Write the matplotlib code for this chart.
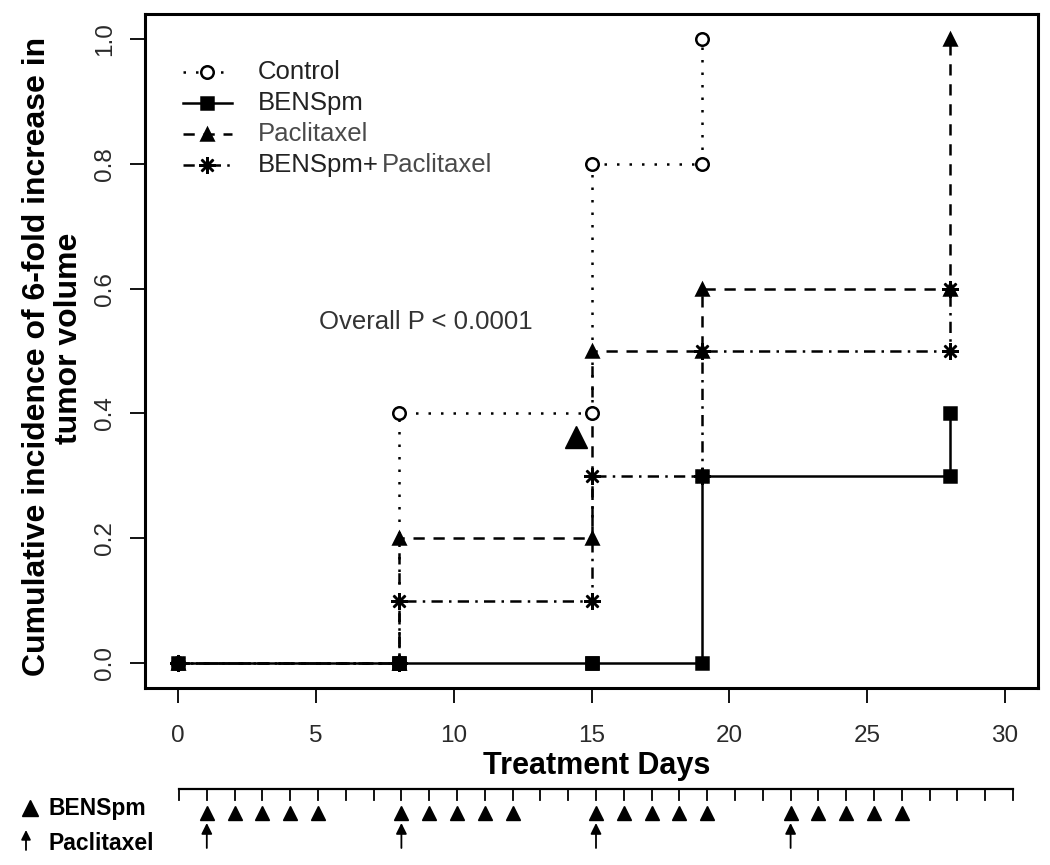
import matplotlib
matplotlib.use("Agg")
import matplotlib.pyplot as plt

plt.rcParams['font.family'] = ['Liberation Sans', 'DejaVu Sans']

# cumulative incidence of 6-fold tumour volume increase
days = [0, 8, 15, 19, 28]
control = [0.0, 0.4, 0.8, 1.0]          # observed up to day 19
benspm = [0.0, 0.0, 0.0, 0.3, 0.4]
paclitaxel = [0.0, 0.2, 0.5, 0.6, 1.0]
combo = [0.0, 0.1, 0.3, 0.5, 0.6]

x_ticks = [0, 5, 10, 15, 20, 25, 30]
y_ticks = [0.0, 0.2, 0.4, 0.6, 0.8, 1.0]

# dosing schedule
sched_days = list(range(31))
benspm_doses = [1, 2, 3, 4, 5, 8, 9, 10, 11, 12, 15, 16, 17, 18, 19, 22, 23, 24, 25, 26]
pacli_doses = [1, 8, 15, 22]

extra_tri = (14.45, 0.362)  # stray triangle in the figure

W, H = 1050, 865
fig = plt.figure(figsize=(W / 100, H / 100), dpi=100)
ax = fig.add_axes([145 / W, 1 - 688 / H, (1038 - 145) / W, (688 - 14) / H])

styles = [
    ("Control", control, dict(ls=(0, (1, 4)), marker='o', mfc='white', ms=9)),
    ("Paclitaxel", paclitaxel, dict(ls=(0, (4.5, 3.5)), marker='^', mfc='black', ms=9)),
    ("BENSpm+Paclitaxel", combo, dict(ls=(0, (4.5, 2.5, 1, 2.5)), marker=(8, 2, 0), mfc='black', ms=12)),
    ("BENSpm", benspm, dict(ls='-', marker='s', mfc='black', ms=8.5)),
]

for i, (name, vals, st) in enumerate(styles):
    d = days[:len(vals)]
    ax.step(d, vals, where='post', color='black', lw=1.8, ls=st['ls'], zorder=2 + i)
    # points on both sides of every step
    px = [d[0]]
    py = [vals[0]]
    for k in range(1, len(vals)):
        px += [d[k], d[k]]
        py += [vals[k - 1], vals[k]]
    ax.plot(px, py, ls='none', marker=st['marker'], ms=st['ms'], mfc=st['mfc'],
            mec='black', mew=1.8, zorder=6 + i)

ax.plot([extra_tri[0]], [extra_tri[1]], ls='none', marker='^', ms=16, color='black', zorder=10)

ax.set_xlim(-1.2, 31.2)
ax.set_ylim(-0.04, 1.04)
ax.set_xticks(x_ticks)
ax.set_yticks(y_ticks)
ax.set_yticklabels(["%.1f" % v for v in y_ticks])
ax.tick_params(direction='out', length=11, width=1.3, labelsize=17.5, labelcolor='#2a2a2a')
ax.tick_params(axis='x', pad=16)
ax.tick_params(axis='y', pad=10)
for t in ax.get_yticklabels():
    t.set_rotation(90)
    t.set_verticalalignment('center')
for s in ax.spines.values():
    s.set_linewidth(2.2)

# overlay in pixel coordinates for labels and legend
ov = fig.add_axes([0, 0, 1, 1], facecolor='none')
ov.set_xlim(0, W)
ov.set_ylim(H, 0)
ov.axis('off')

ov.text(426, 322, "Overall P < 0.0001", fontsize=18.5, color='#333333', ha='center', va='center')
ov.text(597, 766, "Treatment Days", fontsize=22, fontweight='bold', ha='center', va='center')
ov.text(37, 356, "Cumulative incidence of 6-fold increase in", fontsize=23,
        fontweight='bold', rotation=90, ha='center', va='center')
ov.text(69, 338, "tumor volume", fontsize=23,
        fontweight='bold', rotation=90, ha='center', va='center')

# legend
leg_rows = [72, 103, 134, 165]
leg_style = [styles[0], styles[3], styles[1], styles[2]]
for yy, (name, vals, st) in zip(leg_rows, leg_style):
    ov.plot([183, 232], [yy, yy], color='black', lw=1.8, ls=st['ls'])
    ov.plot([207], [yy], ls='none', marker=st['marker'], ms=st['ms'], mfc=st['mfc'],
            mec='black', mew=1.8)
ov.text(258, leg_rows[0], "Control", fontsize=18.5, color='#222222', va='center')
ov.text(258, leg_rows[1], "BENSpm", fontsize=18.5, color='#222222', va='center')
ov.text(258, leg_rows[2], "Paclitaxel", fontsize=18.5, color='#4a4a4a', va='center')
t4 = ov.text(258, leg_rows[3], "BENSpm+", fontsize=18.5, color='#222222', va='center')
fig.canvas.draw()
x_end = t4.get_window_extent().x1
ov.text(x_end + 3, leg_rows[3], "Paclitaxel", fontsize=18.5, color='#4a4a4a', va='center')

# schedule strip
sa = fig.add_axes([179 / W, 1 - 860 / H, (1013 - 179) / W, (860 - 780) / H], facecolor='none')
sa.set_xlim(0, 30)
sa.set_ylim(860, 780)
sa.axis('off')
sa.plot([sched_days[0], sched_days[-1]], [789, 789], color='black', lw=1.6, clip_on=False)
for d in sched_days:
    sa.plot([d, d], [789, 800], color='black', lw=1.3, clip_on=False)
sa.plot(benspm_doses, [813] * len(benspm_doses), ls='none', marker='^', ms=10,
        color='black', clip_on=False)
for d in pacli_doses:
    sa.annotate("", xy=(d, 823), xytext=(d, 848),
                arrowprops=dict(arrowstyle='-|>', color='black', lw=1.3,
                                mutation_scale=16, shrinkA=0, shrinkB=0))

ov.plot([30], [808], ls='none', marker='^', ms=11, color='black')
ov.text(49, 808, "BENSpm", fontsize=16.5, fontweight='bold', va='center')
ov.annotate("", xy=(26, 830), xytext=(26, 850),
            arrowprops=dict(arrowstyle='-|>', color='black', lw=1.3,
                            mutation_scale=14, shrinkA=0, shrinkB=0))
ov.text(49, 843, "Paclitaxel", fontsize=16.5, fontweight='bold', va='center')

fig.savefig("out.png", dpi=100)
